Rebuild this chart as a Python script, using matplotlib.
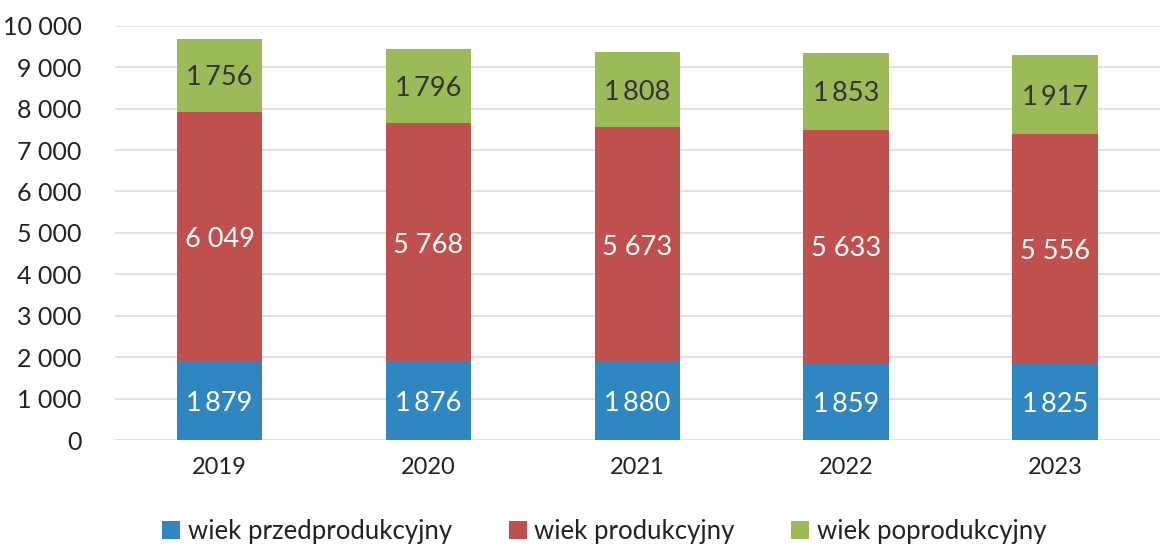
import matplotlib
matplotlib.use("Agg")
import matplotlib.pyplot as plt
import numpy as np

years = ["2019", "2020", "2021", "2022", "2023"]
przed = [1879, 1876, 1880, 1859, 1825]
prod = [6049, 5768, 5673, 5633, 5556]
poprod = [1756, 1796, 1808, 1853, 1917]
series_names = ["wiek przedprodukcyjny", "wiek produkcyjny", "wiek poprodukcyjny"]
colors = ["#2F86C1", "#C0504D", "#9BBB59"]
label_colors = ["white", "white", "#333333"]
label_seps = ["\u2009", " ", "\u2009"]
yticks = [0, 1000, 2000, 3000, 4000, 5000, 6000, 7000, 8000, 9000, 10000]

plt.rcParams['font.family'] = ['Lato', 'DejaVu Sans']

def fmt(v, sep=" "):
    return f"{v:,}".replace(",", sep)

fig = plt.figure(figsize=(11.62, 5.48), dpi=100)
ax = fig.add_axes([0.099, 0.197, 0.899, 0.756])

x = np.arange(len(years))
bottom = np.zeros(len(years))
handles = []
for vals, name, c, lc, sep in zip([przed, prod, poprod], series_names, colors, label_colors, label_seps):
    bars = ax.bar(x, vals, width=0.41, bottom=bottom, color=c, label=name, zorder=3)
    handles.append(bars)
    for xi, b, v in zip(x, bottom, vals):
        ax.text(xi, b + v / 2, fmt(v, sep), ha="center", va="center_baseline", color=lc,
                fontsize=19.5, zorder=4)
    bottom = bottom + np.array(vals)

ax.set_xlim(-0.5, len(years) - 0.5)
ax.set_ylim(0, 10000)
ax.set_yticks(yticks)
ax.set_yticklabels([fmt(t) for t in yticks], fontsize=18, color="#222222")
ax.set_xticks(x)
ax.set_xticklabels(years, fontsize=17, color="#222222")
ax.tick_params(axis="both", length=0)
ax.tick_params(axis="y", pad=24)
ax.tick_params(axis="x", pad=12)
ax.yaxis.grid(True, color="#dcdcdc", linewidth=1.2, zorder=0)
for s in ax.spines.values():
    s.set_visible(False)

fig.legend(handles=handles, labels=series_names, loc="lower center", bbox_to_anchor=(0.52, -0.035),
           ncol=3, frameon=False, fontsize=18.5, handlelength=0.7, handleheight=0.7,
           handletextpad=0.3, columnspacing=2.2, labelcolor="#222222")

fig.savefig("out.png", dpi=100)
